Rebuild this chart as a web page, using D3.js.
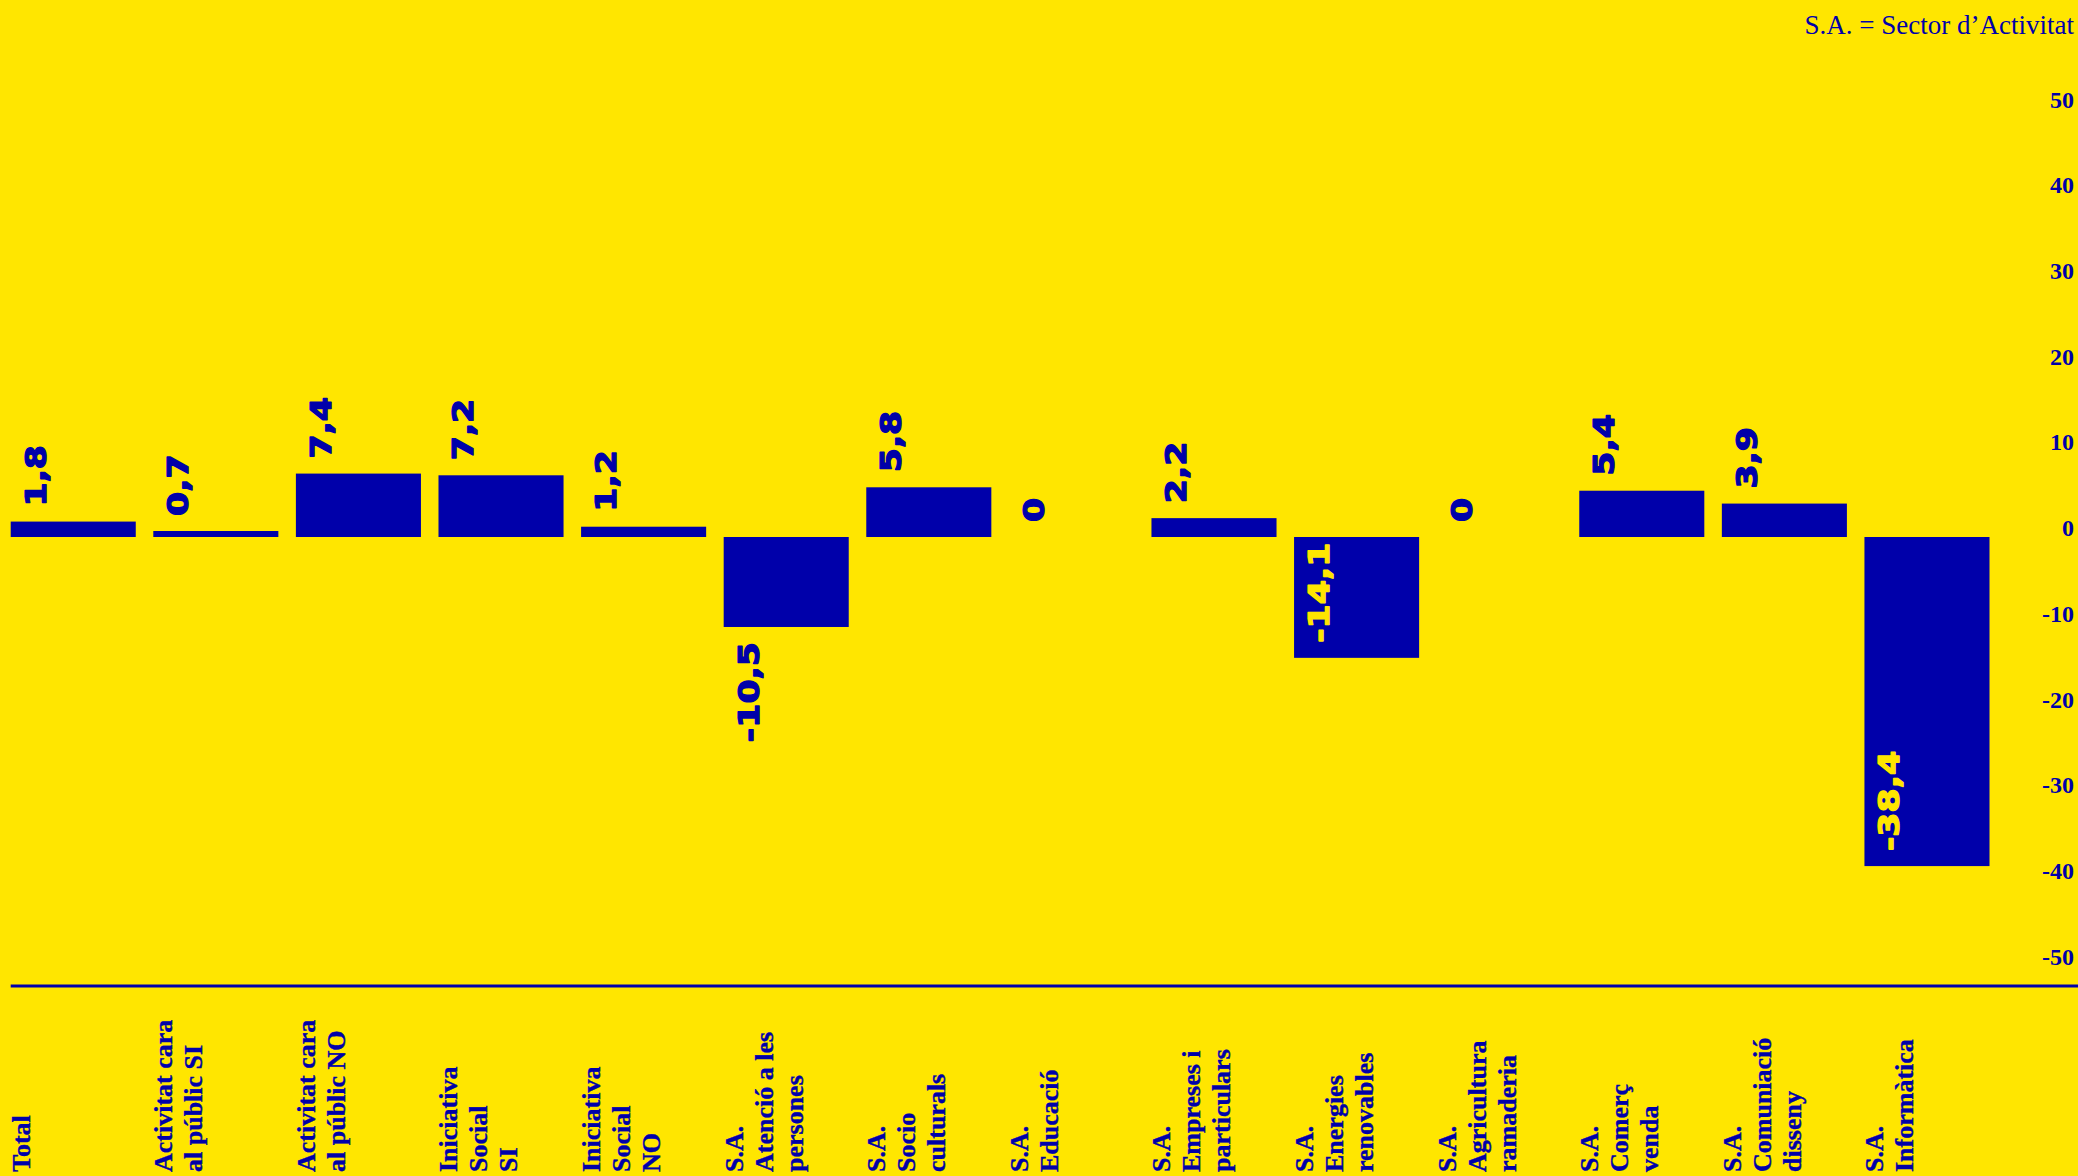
<!DOCTYPE html>
<html><head><meta charset="utf-8">
<script src="https://cdn.jsdelivr.net/npm/d3@7"></script>
<style>html,body{margin:0;padding:0;background:#FFE600;} svg{display:block}</style>
</head><body><svg id="chart" width="2078" height="1176"></svg>
<script>
const categories = [
  "Total",
  "Activitat cara\nal públic SI",
  "Activitat cara\nal públic NO",
  "Iniciativa\nSocial\nSI",
  "Iniciativa\nSocial\nNO",
  "S.A.\nAtenció a les\npersones",
  "S.A.\nSocio\nculturals",
  "S.A.\nEducació",
  "S.A.\nEmpreses i\nparticulars",
  "S.A.\nEnergies\nrenovables",
  "S.A.\nAgricultura\nramaderia",
  "S.A.\nComerç\nvenda",
  "S.A.\nComuniació\ndisseny",
  "S.A.\nInformàtica"
];
const values = [1.8, 0.7, 7.4, 7.2, 1.2, -10.5, 5.8, 0, 2.2, -14.1, 0, 5.4, 3.9, -38.4];
const yTicks = [50, 40, 30, 20, 10, 0, -10, -20, -30, -40, -50];
const note = "S.A. = Sector d’Activitat";

const W = 2078, H = 1176;
const blue = "#0000AA", yellow = "#FFE600";
const serif = "'Liberation Serif', 'DejaVu Serif', serif";
const sans = "'DejaVu Sans', Verdana, sans-serif";

const svg = d3.select("#chart");
svg.append("rect").attr("width", W).attr("height", H).attr("fill", yellow);

const x = d3.scaleBand().domain(d3.range(categories.length))
  .range([10.7, 1989.5]).paddingInner(0.123).paddingOuter(0);
const y = d3.scaleLinear().domain([-50, 50]).range([965.5, 108.5]);

// note
svg.append("text").attr("x", 2074).attr("y", 34).attr("text-anchor", "end")
  .attr("font-family", serif).attr("font-size", 27).attr("fill", blue).text(note);

// y axis labels (right)
const ax = svg.append("g").attr("transform", "translate(2074,0)")
  .call(d3.axisLeft(y).tickValues(yTicks).tickSize(0).tickPadding(0).tickFormat(d => String(d)));
ax.select(".domain").remove();
ax.selectAll("text").attr("y", -9).attr("font-family", serif).attr("font-size", 24)
  .attr("font-weight", "bold").attr("fill", blue);

// bars
svg.append("g").selectAll("rect").data(values).join("rect")
  .attr("x", (d, i) => x(i))
  .attr("y", d => y(Math.max(0, d)))
  .attr("width", x.bandwidth())
  .attr("height", d => Math.abs(y(d) - y(0)))
  .attr("fill", blue);

// value labels
const fmt = v => String(v).replace(".", ",");
const vl = svg.append("g");
values.forEach((v, i) => {
  const t = vl.append("text").attr("font-family", sans).attr("font-weight", "bold")
    .attr("font-size", 29).text(fmt(v));
  const len = t.node().getComputedTextLength() * 1.2;
  const barH = Math.abs(y(v) - y(0));
  let ty, anchor, fill;
  if (v >= 0) { ty = y(v) - 15; anchor = "start"; fill = blue; }
  else if (barH > len + 15) { ty = y(v) - 15; anchor = "start"; fill = yellow; }
  else { ty = y(v) + 15; anchor = "end"; fill = blue; }
  t.attr("text-anchor", anchor).attr("fill", fill)
    .attr("stroke", fill).attr("stroke-width", 1.3).attr("stroke-linejoin", "round")
    .attr("transform", `translate(${x(i) + 35},${ty}) rotate(-90) scale(1.2,1)`);
});

// separator line
svg.append("line").attr("x1", 10.7).attr("x2", W).attr("y1", 986).attr("y2", 986)
  .attr("stroke", blue).attr("stroke-width", 3);

// category labels
const cl = svg.append("g");
categories.forEach((c, i) => {
  const t = cl.append("text").attr("font-family", serif).attr("font-weight", "bold")
    .attr("font-size", 26).attr("fill", blue)
    .attr("stroke", blue).attr("stroke-width", 0.4)
    .attr("transform", `translate(${x(i) + 19},1172) rotate(-90)`);
  c.split("\n").forEach((line, j) => {
    t.append("tspan").attr("x", 0).attr("dy", j === 0 ? 0 : 30).text(line);
  });
});
</script></body></html>
